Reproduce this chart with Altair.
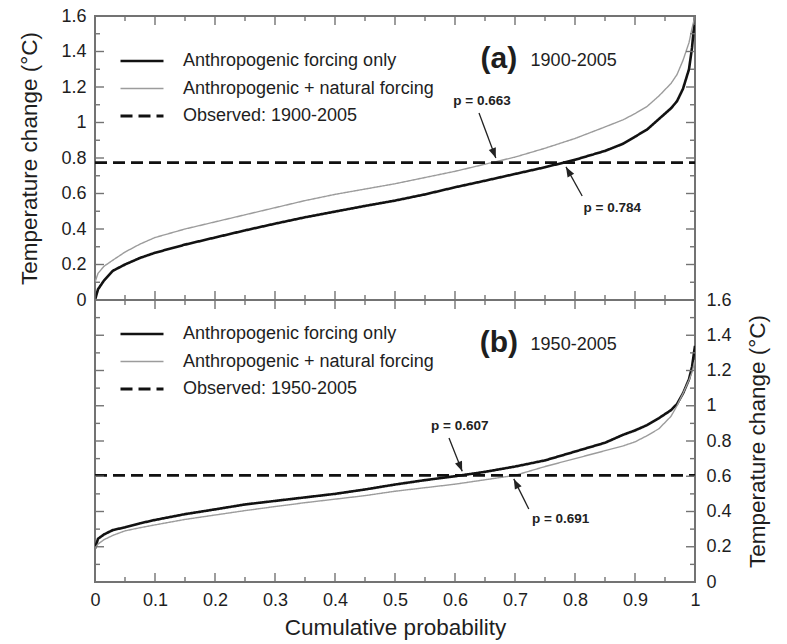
import math
import altair as alt
import pandas as pd

# ---------------- data ----------------
P = [0, 0.005, 0.015, 0.03, 0.05, 0.075, 0.1, 0.15, 0.2, 0.25, 0.3, 0.35, 0.4, 0.45,
     0.5, 0.55, 0.6, 0.65, 0.7, 0.75, 0.8, 0.85, 0.88, 0.9, 0.92, 0.94, 0.96, 0.97,
     0.98, 0.99, 0.995, 1.0]

# panel (a) 1900-2005
A_ANTH = [0.0, 0.06, 0.11, 0.165, 0.20, 0.237, 0.266, 0.312, 0.352, 0.392, 0.43, 0.466,
          0.498, 0.53, 0.56, 0.595, 0.635, 0.672, 0.71, 0.748, 0.79, 0.84, 0.88, 0.92,
          0.96, 1.02, 1.08, 1.12, 1.19, 1.30, 1.42, 1.6]
A_NAT = [0.10, 0.15, 0.19, 0.225, 0.27, 0.315, 0.352, 0.40, 0.44, 0.48, 0.52, 0.56,
         0.595, 0.625, 0.655, 0.69, 0.725, 0.765, 0.805, 0.855, 0.91, 0.975, 1.015, 1.05,
         1.09, 1.15, 1.22, 1.27, 1.35, 1.45, 1.53, 1.6]
OBS_A = 0.774

# panel (b) 1950-2005
B_ANTH = [0.19, 0.245, 0.27, 0.295, 0.31, 0.333, 0.352, 0.385, 0.412, 0.44, 0.46, 0.48,
          0.50, 0.525, 0.553, 0.578, 0.60, 0.625, 0.655, 0.69, 0.74, 0.79, 0.835, 0.86,
          0.89, 0.93, 0.975, 1.01, 1.07, 1.15, 1.22, 1.34]
B_NAT = [0.19, 0.215, 0.24, 0.265, 0.29, 0.308, 0.324, 0.355, 0.38, 0.405, 0.428, 0.45,
         0.47, 0.49, 0.515, 0.535, 0.555, 0.58, 0.605, 0.655, 0.70, 0.745, 0.772, 0.795,
         0.83, 0.87, 0.94, 1.0, 1.07, 1.145, 1.19, 1.26]
OBS_B = 0.605

SERIES_A = ["Anthropogenic forcing only", "Anthropogenic + natural forcing",
            "Observed: 1900-2005"]
SERIES_B = ["Anthropogenic forcing only", "Anthropogenic + natural forcing",
            "Observed: 1950-2005"]

X_MAJOR = [0, 0.1, 0.2, 0.3, 0.4, 0.5, 0.6, 0.7, 0.8, 0.9, 1.0]
X_MINOR = [0.05, 0.15, 0.25, 0.35, 0.45, 0.55, 0.65, 0.75, 0.85, 0.95]
Y_MAJOR = [0, 0.2, 0.4, 0.6, 0.8, 1.0, 1.2, 1.4, 1.6]
Y_MINOR = [0.1, 0.3, 0.5, 0.7, 0.9, 1.1, 1.3, 1.5]

LABELS_A = ["p = 0.663", "p = 0.784"]
LABELS_B = ["p = 0.607", "p = 0.691"]

# annotation placement (data coordinates): label centre, arrow start, arrow tip
ANN_POS_A = [(0.645, 1.12, 0.640, 1.054, 0.668, 0.800),
             (0.862, 0.518, 0.812, 0.586, 0.785, 0.750)]
ANN_POS_B = [(0.608, 0.885, 0.590, 0.817, 0.612, 0.628),
             (0.776, 0.356, 0.723, 0.414, 0.698, 0.585)]

FONT = "Liberation Sans"
FRAME = "#737373"
TXT = "#1e1e1e"
W = 600
H_TOP = 284
H_BOT = 282
YMAX = 1.6


def panel(anth, nat, obs, series, labels, ann_pos, tag, period, H, y_side, show_x,
          leg_y):
    rows = []
    for p, a, n in zip(P, anth, nat):
        rows.append({"p": p, "v": a, "series": series[0]})
        rows.append({"p": p, "v": n, "series": series[1]})
    rows.append({"p": 0.0, "v": obs, "series": series[2]})
    rows.append({"p": 1.0, "v": obs, "series": series[2]})
    df = pd.DataFrame(rows)

    xs = alt.Scale(domain=[0, 1], nice=False, zero=False)
    ys = alt.Scale(domain=[0, YMAX], nice=False)

    if show_x:
        x_axis = alt.Axis(values=X_MAJOR, format=".1~f", ticks=False, domain=False,
                          grid=False, labelFontSize=18, labelFont=FONT,
                          labelColor=TXT, labelPadding=9, labelFlush=False,
                          labelOverlap=False, title="Cumulative probability",
                          titleFont=FONT, titleFontSize=22.5, titleFontWeight="normal",
                          titleColor=TXT, titlePadding=7)
    else:
        x_axis = None

    y_axis_kw = dict(orient=y_side, values=Y_MAJOR, format=".1~f", ticks=False,
                     domain=False, grid=False, labelFontSize=18, labelFont=FONT,
                     labelColor=TXT, labelFlush=False, labelOverlap=False,
                     title="Temperature change (°C)", titleFont=FONT,
                     titleFontSize=22.5, titleFontWeight="normal", titleColor=TXT)
    if y_side == "left":
        y_axis_kw.update(labelPadding=9, titlePadding=19)
    else:
        y_axis_kw.update(labelPadding=11, titlePadding=15, titleAngle=270,
                         titleBaseline="top", labelAlign="left")
    y_axis = alt.Axis(**y_axis_kw)

    def X(field):
        return alt.X(field, scale=xs, axis=x_axis)

    def Y(field):
        return alt.Y(field, scale=ys, axis=y_axis)

    legend = alt.Legend(title=None, orient="none", legendX=24, legendY=leg_y,
                        symbolType="stroke", symbolSize=1849, labelFontSize=18,
                        labelFont=FONT, labelColor=TXT, labelOffset=18,
                        clipHeight=18, rowPadding=9.5, padding=0, labelLimit=500)

    lines = alt.Chart(df).mark_line(clip=True, strokeCap="butt").encode(
        x=X("p:Q"),
        y=Y("v:Q"),
        color=alt.Color("series:N",
                        scale=alt.Scale(domain=series,
                                        range=["#121212", "#9c9c9c", "#111111"]),
                        legend=legend),
        strokeDash=alt.StrokeDash("series:N",
                                  scale=alt.Scale(domain=series,
                                                  range=[[1, 0], [1, 0], [12, 6]]),
                                  legend=legend),
        strokeWidth=alt.StrokeWidth("series:N",
                                    scale=alt.Scale(type="ordinal", domain=series,
                                                    range=[2.6, 1.4, 2.8]),
                                    legend=legend),
    )

    layers = [lines]

    # inward ticks on all four sides
    def xticks(vals, length):
        d = pd.DataFrame({"p": vals})
        bot = alt.Chart(d).mark_rule(color=FRAME, strokeWidth=1.4).encode(
            x=X("p:Q"), y=alt.value(H), y2=alt.value(H - length))
        top = alt.Chart(d).mark_rule(color=FRAME, strokeWidth=1.4).encode(
            x=X("p:Q"), y=alt.value(0), y2=alt.value(length))
        return [bot, top]

    def yticks(vals, length):
        d = pd.DataFrame({"v": vals})
        left = alt.Chart(d).mark_rule(color=FRAME, strokeWidth=1.4).encode(
            y=Y("v:Q"), x=alt.value(0), x2=alt.value(length))
        right = alt.Chart(d).mark_rule(color=FRAME, strokeWidth=1.4).encode(
            y=Y("v:Q"), x=alt.value(W), x2=alt.value(W - length))
        return [left, right]

    layers += xticks(X_MAJOR, 9) + xticks(X_MINOR, 5)
    layers += yticks(Y_MAJOR, 9) + yticks(Y_MINOR, 5)

    # arrows and p labels
    sx = W / 1.0
    sy = H / YMAX
    arr_rows = []
    for lab, (lx, ly, x0, y0, x1, y1) in zip(labels, ann_pos):
        dx = (x1 - x0) * sx
        dy = -(y1 - y0) * sy
        ang = math.degrees(math.atan2(dx, -dy)) % 360
        arr_rows.append({"label": lab, "lx": lx, "ly": ly, "x0": x0, "y0": y0,
                         "x1": x1, "y1": y1, "ang": ang})
    ad = pd.DataFrame(arr_rows)
    shaft = alt.Chart(ad).mark_rule(color="#222222", strokeWidth=1.3).encode(
        x=X("x0:Q"), y=Y("y0:Q"), x2="x1:Q", y2="y1:Q")
    head = alt.Chart(ad).mark_point(shape="M0,0L-0.75,2L0.75,2Z", filled=True,
                                    size=100, opacity=1, color="#222222",
                                    strokeWidth=0).encode(
        x=X("x1:Q"), y=Y("y1:Q"), angle=alt.Angle("ang:Q", scale=None))
    plab = alt.Chart(ad).mark_text(font=FONT, fontSize=13.5, fontWeight="bold",
                                   color="#222222", align="center",
                                   baseline="middle").encode(
        x=X("lx:Q"), y=Y("ly:Q"), text="label:N")
    layers += [shaft, head, plab]

    # panel tag and period
    td = pd.DataFrame({"tag": [tag], "tx": [0.673], "ty": [1.305]})
    pdf = pd.DataFrame({"period": [period], "tx": [0.726], "ty": [1.318]})
    tag_m = alt.Chart(td).mark_text(font=FONT, fontSize=30, fontWeight="bold",
                                    color=TXT, align="center",
                                    baseline="alphabetic").encode(
        x=X("tx:Q"), y=Y("ty:Q"), text="tag:N")
    per_m = alt.Chart(pdf).mark_text(font=FONT, fontSize=18, color=TXT, align="left",
                                     baseline="alphabetic").encode(
        x=X("tx:Q"), y=Y("ty:Q"), text="period:N")
    layers += [tag_m, per_m]

    return alt.layer(*layers).properties(width=W, height=H)


top = panel(A_ANTH, A_NAT, OBS_A, SERIES_A, LABELS_A, ANN_POS_A, "(a)", "1900-2005",
            H_TOP, "left", False, 36)
bottom = panel(B_ANTH, B_NAT, OBS_B, SERIES_B, LABELS_B, ANN_POS_B, "(b)", "1950-2005",
               H_BOT, "right", True, 25)

chart = alt.vconcat(top, bottom, spacing=0, bounds="flush").resolve_scale(
    color="independent", strokeDash="independent", strokeWidth="independent"
).resolve_legend(
    color="independent", strokeDash="independent", strokeWidth="independent"
).properties(
    padding={"left": 17, "top": 6, "right": 5, "bottom": 5},
    background="white",
).configure_view(stroke=FRAME, strokeWidth=2)

chart.save("out.html", embed_options={"renderer": "svg", "actions": False})
